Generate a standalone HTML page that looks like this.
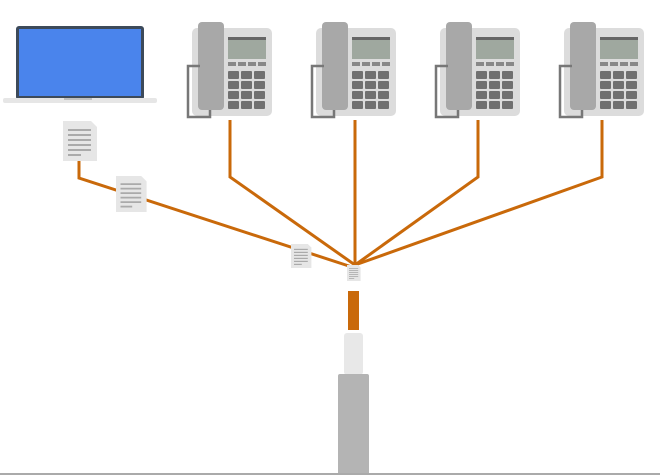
<!DOCTYPE html><html><head><style>body{margin:0;background:#fff;overflow:hidden}svg{display:block}</style></head><body>
<svg width="660" height="475" viewBox="0 0 660 475" xmlns="http://www.w3.org/2000/svg">
<defs>
<g id="ph">
<rect x="0" y="6" width="80" height="88" rx="5" fill="#dcdcdc"/>
<rect x="6" y="0" width="26" height="88" rx="4" fill="#a8a8a8"/>
<path d="M8 44 H-4 V95 H18 V88" fill="none" stroke="#777" stroke-width="2.5"/>
<rect x="36" y="15" width="38" height="22" fill="#9fa89f"/>
<rect x="36" y="15" width="38" height="3" fill="#666"/>
<g fill="#888"><rect x="36" y="40" width="8" height="4"/><rect x="46" y="40" width="8" height="4"/><rect x="56" y="40" width="8" height="4"/><rect x="66" y="40" width="8" height="4"/></g>
<g fill="#707070">
<rect x="36" y="49" width="11" height="8" rx="1"/><rect x="49" y="49" width="11" height="8" rx="1"/><rect x="62" y="49" width="11" height="8" rx="1"/>
<rect x="36" y="59" width="11" height="8" rx="1"/><rect x="49" y="59" width="11" height="8" rx="1"/><rect x="62" y="59" width="11" height="8" rx="1"/>
<rect x="36" y="69" width="11" height="8" rx="1"/><rect x="49" y="69" width="11" height="8" rx="1"/><rect x="62" y="69" width="11" height="8" rx="1"/>
<rect x="36" y="79" width="11" height="8" rx="1"/><rect x="49" y="79" width="11" height="8" rx="1"/><rect x="62" y="79" width="11" height="8" rx="1"/>
</g>
</g>
<g id="doc">
<path d="M0 0 H28 L34 6 V40 H0 Z" fill="#e6e6e6"/>
<g stroke="#aaa" stroke-width="2"><line x1="5" y1="9" x2="28" y2="9"/><line x1="5" y1="14" x2="28" y2="14"/><line x1="5" y1="19" x2="28" y2="19"/><line x1="5" y1="24" x2="28" y2="24"/><line x1="5" y1="29" x2="28" y2="29"/><line x1="5" y1="34" x2="18" y2="34"/></g>
</g>
</defs>
<g fill="none" stroke="#c9690a" stroke-width="3">
<polyline points="230,120 230,177 355,265"/>
<polyline points="355,120 355,265"/>
<polyline points="478,120 478,177 355,265"/>
<polyline points="602,120 602,177 355,265"/>
<polyline points="79,160 79,178 355,268"/>
</g>
<rect x="16" y="26" width="128" height="74" rx="3" fill="#3d4a5a"/>
<rect x="19" y="29" width="122" height="67" fill="#4a84ec"/>
<rect x="3" y="98" width="154" height="5" rx="2" fill="#e6e6e6"/>
<rect x="64" y="98" width="28" height="2" fill="#c0c0c0"/>
<use href="#ph" x="192" y="22"/>
<use href="#ph" x="316" y="22"/>
<use href="#ph" x="440" y="22"/>
<use href="#ph" x="564" y="22"/>
<use href="#doc" transform="translate(63,121)"/>
<use href="#doc" transform="translate(116,176) scale(0.9)"/>
<use href="#doc" transform="translate(291,244) scale(0.6)"/>
<use href="#doc" transform="translate(347,265) scale(0.4)"/>
<rect x="348" y="291" width="11" height="39" fill="#c9690a"/>
<rect x="344" y="333" width="19" height="42" rx="3" fill="#e8e8e8"/>
<rect x="338" y="374" width="31" height="101" rx="2" fill="#b4b4b4"/>
<rect x="0" y="473" width="660" height="2" fill="#aaa"/>
</svg>
</body></html>
